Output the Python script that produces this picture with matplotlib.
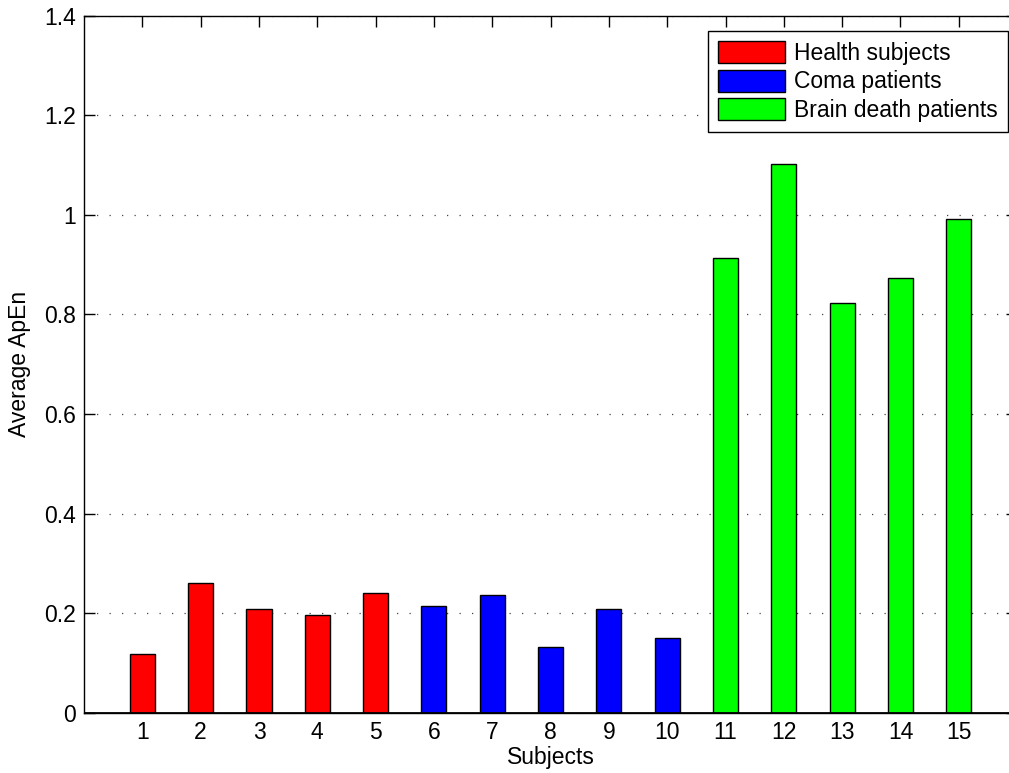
import matplotlib
matplotlib.use("Agg")
import matplotlib.pyplot as plt
from matplotlib.patches import Patch
from matplotlib.ticker import FuncFormatter

plt.rcParams['font.family'] = ['Liberation Sans', 'DejaVu Sans']

subjects = list(range(1, 16))
health_vals = [0.119, 0.260, 0.209, 0.196, 0.241]
coma_vals = [0.214, 0.236, 0.132, 0.209, 0.150]
brain_death_vals = [0.914, 1.101, 0.823, 0.874, 0.992]
group_labels = ["Health subjects", "Coma patients", "Brain death patients"]
group_colors = ["#ff0000", "#0000ff", "#00ff00"]
y_ticks = [0, 0.2, 0.4, 0.6, 0.8, 1.0, 1.2, 1.4]

FS = 16.5

fig = plt.figure(figsize=(10.09, 7.73), dpi=100)
ax = fig.add_axes([0.0833, 0.0776, 0.9247, 0.9023])

groups = [health_vals, coma_vals, brain_death_vals]
start = 0
for vals, color in zip(groups, group_colors):
    xs = subjects[start:start + len(vals)]
    ax.bar(xs, vals, width=0.43, color=color, edgecolor="black",
           linewidth=1.0, zorder=3)
    start += len(vals)

ax.set_xlim(0, 16)
ax.set_ylim(0, 1.4)
ax.set_xticks(subjects)
ax.set_yticks(y_ticks)
ax.yaxis.set_major_formatter(FuncFormatter(lambda v, p: f"{v:g}"))

ax.yaxis.grid(True, linestyle=(0, (1, 9)), color="#444444", linewidth=0.9)
ax.set_axisbelow(True)

ax.tick_params(direction="in", length=8, width=1, labelsize=FS,
               top=True, right=True, pad=6)
for sp in ax.spines.values():
    sp.set_linewidth(1.0)
ax.axhline(0, color="black", linewidth=2.0, zorder=4)

ax.set_xlabel("Subjects", fontsize=FS, labelpad=1)
ax.set_ylabel("Average ApEn", fontsize=FS, labelpad=9)

handles = [Patch(facecolor=c, edgecolor="black", linewidth=1.0) for c in group_colors]
leg = ax.legend(handles, group_labels, loc="upper right",
                bbox_to_anchor=(1008 / 1009, 1 - 31 / 773),
                bbox_transform=fig.transFigure,
                fontsize=FS, fancybox=False, framealpha=1,
                edgecolor="black", handlelength=2.9, handleheight=1.1,
                handletextpad=0.4, labelspacing=0.2, borderpad=0.45,
                borderaxespad=0)
leg.get_frame().set_linewidth(1.0)

fig.savefig("out.png", dpi=100)
